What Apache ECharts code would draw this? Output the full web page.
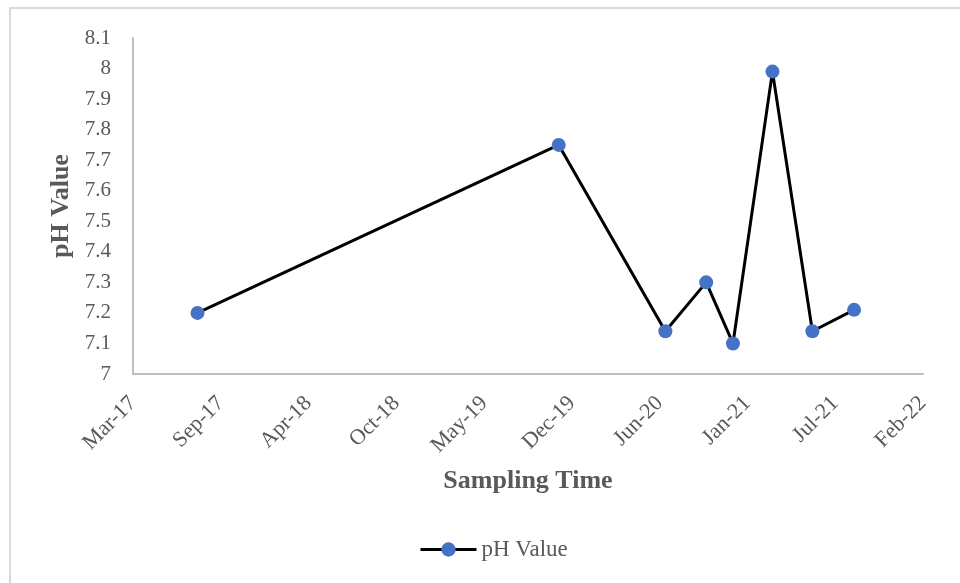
<!DOCTYPE html>
<html>
<head>
<meta charset="utf-8">
<script src="https://cdn.jsdelivr.net/npm/echarts@6/dist/echarts.min.js"></script>
<style>
  html, body { margin: 0; padding: 0; background: #fff; }
  #chart { width: 960px; height: 583px; }
</style>
</head>
<body>
<div id="chart"></div>
<script>
// Sampling dates and measured pH
var sampleDates = ['2017-08-02', '2019-11-03', '2020-07-03', '2020-10-04', '2020-12-04', '2021-03-04', '2021-06-03', '2021-09-06'];
var phValues = [7.20, 7.75, 7.14, 7.30, 7.10, 7.99, 7.14, 7.21];

// Date axis: days counted from the axis origin, one label every 200 days
var axisOrigin = '2017-03-08';
var axisSpanDays = 1800;
var axisStepDays = 200;
var monthNames = ['Jan', 'Feb', 'Mar', 'Apr', 'May', 'Jun', 'Jul', 'Aug', 'Sep', 'Oct', 'Nov', 'Dec'];

var DAY = 86400000;
function toUTC(s) {
  var p = s.split('-');
  return Date.UTC(+p[0], +p[1] - 1, +p[2]);
}
var originMs = toUTC(axisOrigin);
function dayOffset(s) { return Math.round((toUTC(s) - originMs) / DAY); }
function dayLabel(v) {
  var d = new Date(originMs + v * DAY);
  var yy = String(d.getUTCFullYear() % 100);
  if (yy.length < 2) yy = '0' + yy;
  return monthNames[d.getUTCMonth()] + '-' + yy;
}

var points = sampleDates.map(function (s, i) { return [dayOffset(s), phValues[i]]; });

var serif = '"Liberation Serif", "Times New Roman", serif';
var textGray = '#595959';

var chart = echarts.init(document.getElementById('chart'), null, { renderer: 'canvas' });
chart.setOption({
  backgroundColor: '#ffffff',
  animation: false,
  graphic: [{
    type: 'rect',
    shape: { x: 10, y: 8, width: 980, height: 600 },
    style: { fill: 'none', stroke: '#d9d9d9', lineWidth: 2 },
    silent: true
  }],
  grid: { left: 133, right: 37, top: 38, bottom: 209, containLabel: false },
  legend: {
    top: 533,
    left: 414,
    itemWidth: 56,
    itemHeight: 18,
    itemGap: 4,
    itemStyle: { color: '#4472C4' },
    lineStyle: { color: '#000000', width: 3 },
    textStyle: { fontFamily: serif, fontSize: 23, color: textGray },
    data: ['pH Value']
  },
  xAxis: {
    type: 'value',
    min: 0,
    max: axisSpanDays,
    interval: axisStepDays,
    name: 'Sampling Time',
    nameLocation: 'middle',
    nameGap: 94,
    nameTextStyle: { fontFamily: serif, fontSize: 26, fontWeight: 'bold', color: textGray },
    axisLine: { show: true, lineStyle: { color: '#bfbfbf', width: 2 } },
    axisTick: { show: false },
    splitLine: { show: false },
    axisLabel: {
      rotate: 45,
      margin: 26,
      fontFamily: serif,
      fontSize: 22,
      color: textGray,
      formatter: dayLabel
    }
  },
  yAxis: {
    type: 'value',
    min: 7,
    max: 8.1,
    interval: 0.1,
    name: 'pH Value',
    nameLocation: 'middle',
    nameGap: 58,
    nameTextStyle: { fontFamily: serif, fontSize: 26, fontWeight: 'bold', color: textGray },
    axisLine: { show: true, lineStyle: { color: '#bfbfbf', width: 2 } },
    axisTick: { show: false },
    splitLine: { show: false },
    axisLabel: {
      margin: 22,
      fontFamily: serif,
      fontSize: 21,
      color: textGray,
      formatter: function (v) { return String(Math.round(v * 10) / 10); }
    }
  },
  series: [{
    name: 'pH Value',
    type: 'line',
    data: points,
    symbol: 'circle',
    symbolSize: 14,
    lineStyle: { color: '#000000', width: 3 },
    itemStyle: { color: '#4472C4' },
    z: 3
  }]
});
</script>
</body>
</html>
